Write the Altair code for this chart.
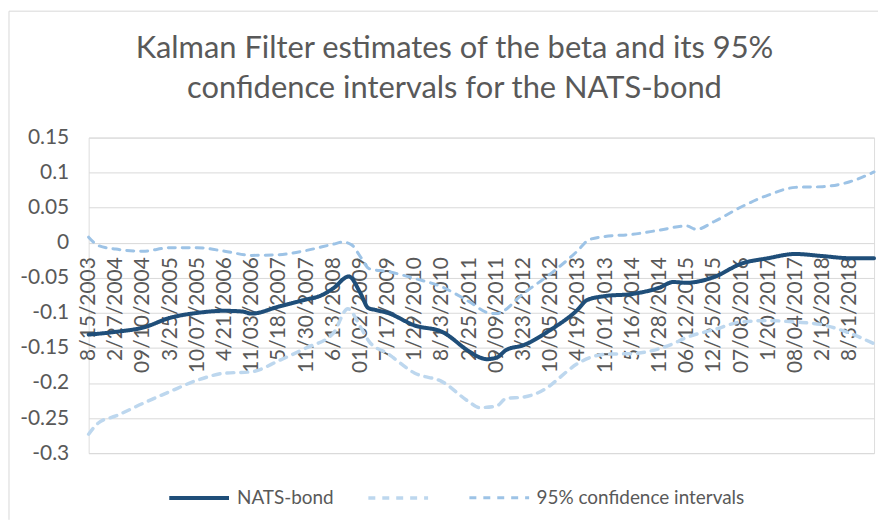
import altair as alt
import pandas as pd

# ---- data ----
tick_labels = ["8/15/2003", "2/27/2004", "09/10/2004", "3/25/2005", "10/07/2005",
               "4/21/2006", "11/03/2006", "5/18/2007", "11/30/2007", "6/13/2008",
               "01/02/2009", "7/17/2009", "1/29/2010", "8/13/2010", "2/25/2011",
               "09/09/2011", "3/23/2012", "10/05/2012", "4/19/2013", "11/01/2013",
               "5/16/2014", "11/28/2014", "06/12/2015", "12/25/2015", "07/08/2016",
               "1/20/2017", "08/04/2017", "2/16/2018", "8/31/2018"]
tick_step = 28      # weekly observations between two labels
last_week = 809     # index of the last weekly observation

y_ticks = [0.15, 0.1, 0.05, 0, -0.05, -0.1, -0.15, -0.2, -0.25, -0.3]

beta_weeks = [0, 28, 56, 84, 112, 140, 158, 168, 196, 224, 238, 252, 268, 280, 288, 296,
              308, 336, 364, 392, 402, 410, 420, 430, 448, 476, 504, 513, 532, 560, 588,
              602, 616, 644, 672, 700, 728, 756, 784, 809]
beta_values = [-0.131, -0.127, -0.121, -0.107, -0.100, -0.097, -0.098, -0.101, -0.091,
               -0.081, -0.076, -0.065, -0.048, -0.072, -0.093, -0.096, -0.100, -0.118,
               -0.127, -0.155, -0.163, -0.166, -0.164, -0.153, -0.146, -0.124, -0.095,
               -0.082, -0.076, -0.073, -0.064, -0.056, -0.057, -0.049, -0.030, -0.022,
               -0.016, -0.019, -0.022, -0.022]

upper_weeks = [0, 10, 28, 56, 84, 112, 140, 168, 196, 224, 252, 262, 271, 280, 289, 308,
               336, 364, 392, 412, 420, 448, 476, 504, 515, 532, 560, 588, 616, 626, 644,
               672, 700, 728, 756, 784, 809]
upper_values = [0.008, -0.004, -0.009, -0.012, -0.007, -0.007, -0.012, -0.018, -0.017,
                -0.011, -0.002, 0.001, -0.003, -0.020, -0.037, -0.041, -0.051, -0.063,
                -0.084, -0.100, -0.101, -0.072, -0.044, -0.011, 0.004, 0.009, 0.012,
                0.018, 0.024, 0.019, 0.030, 0.051, 0.068, 0.079, 0.080, 0.087, 0.101]

lower_weeks = [0, 10, 28, 56, 84, 112, 140, 168, 196, 224, 252, 267, 280, 289, 308, 336,
               364, 392, 402, 420, 430, 448, 476, 482, 504, 518, 532, 560, 588, 602, 616,
               644, 672, 700, 728, 756, 784, 809]
lower_values = [-0.273, -0.257, -0.247, -0.229, -0.212, -0.196, -0.186, -0.184, -0.168,
                -0.150, -0.129, -0.094, -0.120, -0.141, -0.158, -0.186, -0.198, -0.227,
                -0.235, -0.233, -0.222, -0.220, -0.203, -0.196, -0.172, -0.163, -0.159,
                -0.158, -0.151, -0.144, -0.135, -0.124, -0.113, -0.111, -0.113, -0.117,
                -0.129, -0.144]

series_order = ["NATS-bond", "lower bound", "95% confidence intervals"]
series_colors = ["#1F4E79", "#BDD7EE", "#9DC3E6"]
series_dash = [[1, 0], [7, 7], [7, 7]]
series_width = [4, 3, 3]

df = pd.concat([
    pd.DataFrame({"week": beta_weeks, "value": beta_values, "series": series_order[0]}),
    pd.DataFrame({"week": lower_weeks, "value": lower_values, "series": series_order[1]}),
    pd.DataFrame({"week": upper_weeks, "value": upper_values, "series": series_order[2]}),
], ignore_index=True)

FONT = "Lato"
GREY = "#595959"
GRID = "#D9D9D9"

x_label_expr = "[" + ",".join("'%s'" % s for s in tick_labels) + "][round(datum.value / %d)]" % tick_step
tick_values = [i * tick_step for i in range(len(tick_labels))]

W = 789
H = 317
zero_offset = -(H - H * 0.15 / 0.45)

legend = alt.Legend(
    title=None, orient="none", direction="horizontal", legendX=79, legendY=330,
    symbolType="stroke", symbolSize=3600, labelFontSize=19, labelFont=FONT,
    labelColor=GREY, columnPadding=27, labelOffset=6, labelLimit=400,
    labelExpr="datum.label == 'lower bound' ? '' : datum.label",
)

lines = alt.Chart(df).mark_line(interpolate="monotone", strokeCap="round").encode(
    x=alt.X("week:Q",
            scale=alt.Scale(domain=[0, last_week], nice=False, zero=False),
            axis=alt.Axis(values=tick_values, labelExpr=x_label_expr, labelAngle=270,
                          labelAlign="right", labelBaseline="middle", labelPadding=14,
                          ticks=False, tickSize=0, domain=False, grid=False,
                          offset=zero_offset, title=None, labelFontSize=21,
                          labelColor=GREY, labelFont=FONT, labelOverlap=False,
                          labelFlush=False)),
    y=alt.Y("value:Q",
            scale=alt.Scale(domain=[-0.3, 0.15], nice=False, zero=False),
            axis=alt.Axis(values=y_ticks, labelExpr="'' + datum.value", title=None,
                          domain=False, ticks=False, tickSize=0, labelPadding=20,
                          labelFontSize=21, labelColor=GREY, labelFont=FONT,
                          grid=True, gridColor=GRID, minExtent=75, maxExtent=75)),
    color=alt.Color("series:N", scale=alt.Scale(domain=series_order, range=series_colors),
                    legend=legend),
    strokeDash=alt.StrokeDash("series:N", scale=alt.Scale(domain=series_order, range=series_dash),
                              legend=legend),
    strokeWidth=alt.StrokeWidth("series:N", scale=alt.Scale(domain=series_order, range=series_width),
                                legend=legend),
)

# chart-area frame (left and top edges, as in the spreadsheet picture)
frame_data = pd.DataFrame({"k": [0]})
frame_top = alt.Chart(frame_data).mark_rule(color=GRID, strokeWidth=1).encode(
    x=alt.value(-80), x2=alt.value(793), y=alt.value(-127))
frame_left = alt.Chart(frame_data).mark_rule(color=GRID, strokeWidth=1).encode(
    x=alt.value(-80), y=alt.value(-127), y2=alt.value(384))

chart = alt.layer(lines, frame_top, frame_left).properties(
    width=W, height=H,
    padding={"left": 0, "top": 1, "right": 0, "bottom": 0},
    title=alt.TitleParams(
        text=["Kalman Filter estimates of the beta and its 95%",
              "confidence intervals for the NATS-bond"],
        fontSize=31, font=FONT, fontWeight="normal", color=GREY,
        lineHeight=40, offset=-95, anchor="middle", dx=-27),
).configure_view(stroke=GRID).configure(font=FONT)

chart.save("out.html", embed_options={"renderer": "svg", "actions": False})
